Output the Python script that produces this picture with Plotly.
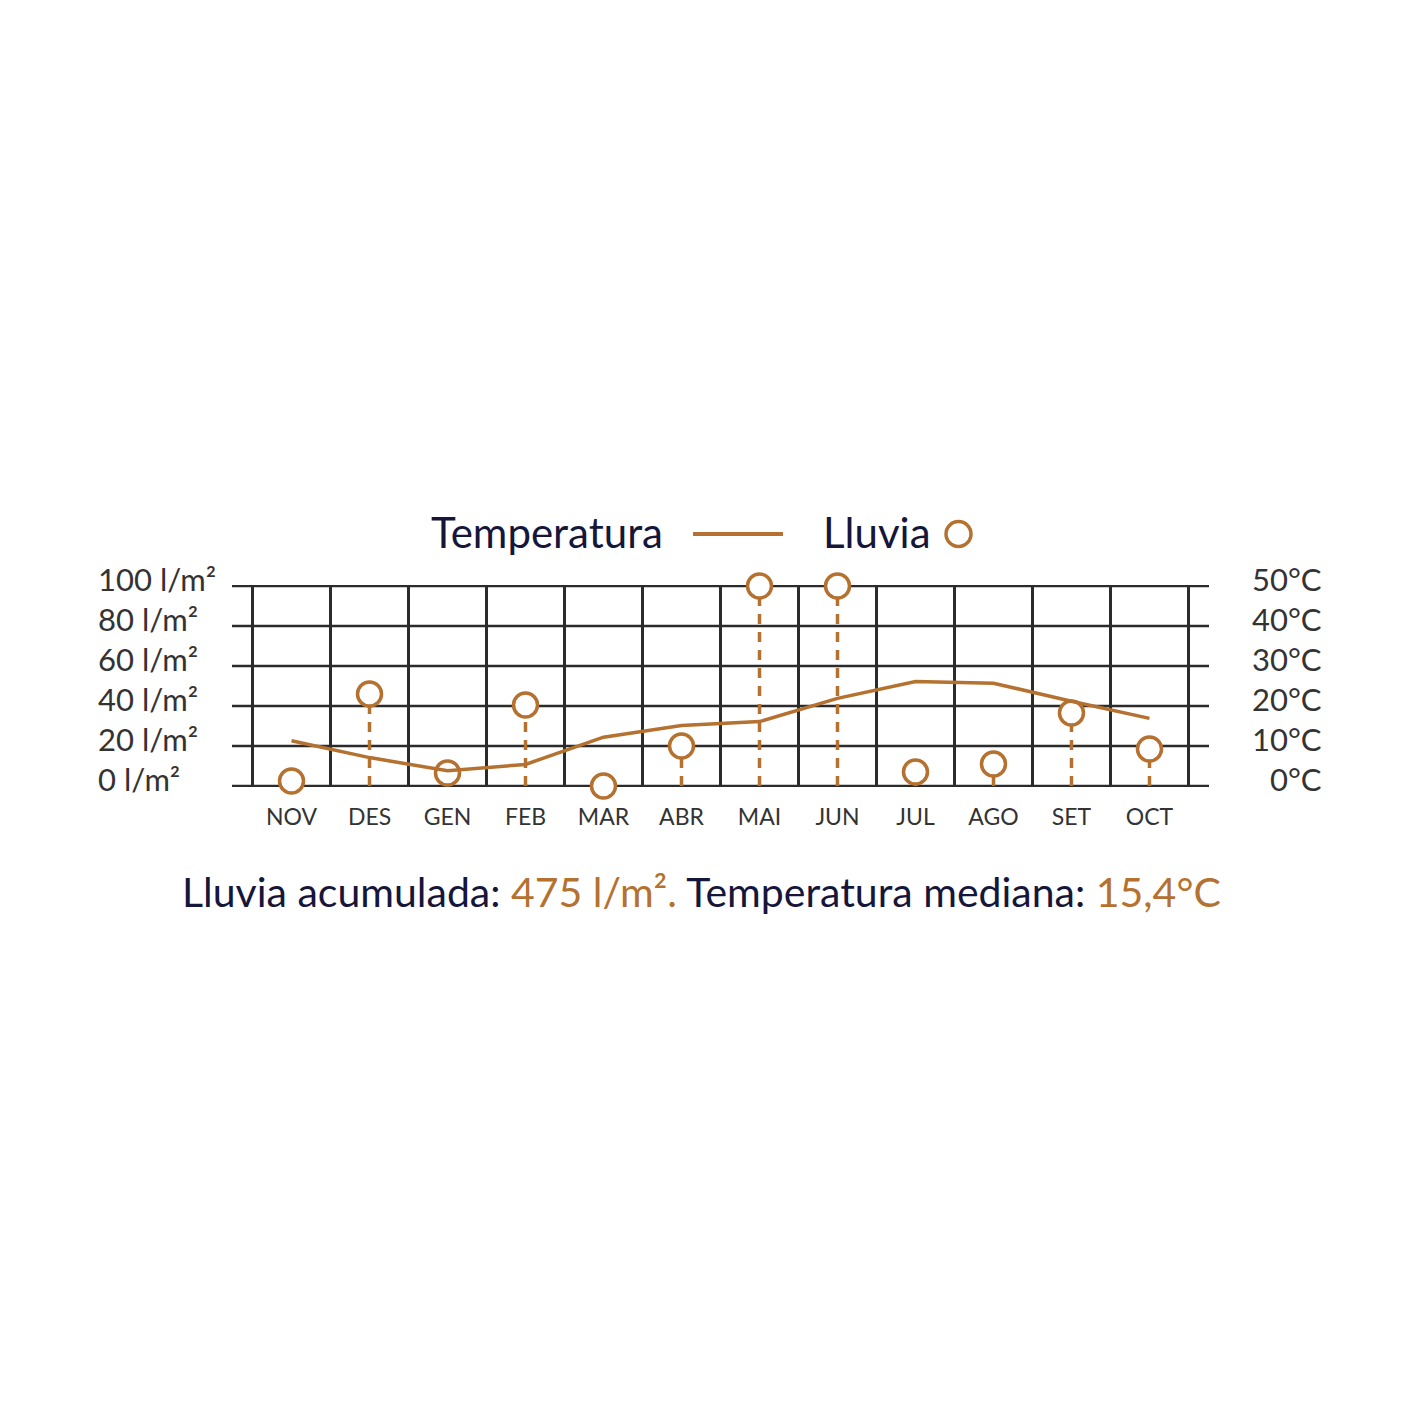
import plotly.graph_objects as go

months = ['NOV', 'DES', 'GEN', 'FEB', 'MAR', 'ABR', 'MAI', 'JUN', 'JUL', 'AGO', 'SET', 'OCT']
rain = [2.5, 46, 6.5, 40.5, 0, 20, 100, 100, 7, 11, 36.5, 18.5]
temp = [11.3, 7.1, 3.8, 5.4, 12.2, 15.1, 16.1, 21.9, 26.1, 25.7, 21.2, 16.9]
rain_ticks = [0, 20, 40, 60, 80, 100]
temp_ticks = [0, 10, 20, 30, 40, 50]

BROWN = '#b5712f'
INK = '#16163a'
GREY = '#333333'
GRID = '#2b2b2b'
FONT = 'Lato'

# the page body adds an 8px margin around the plot div
OFF = 8
W, H = 1422, 1422
L, T = 232 - OFF, 585 - OFF
PW, PH = 977, 202
R, B = W - L - PW, H - T - PH


def px_x(p):
    return (p - OFF - L) / PW


def px_y(p):
    return 1 - (p - OFF - T) / PH


x = list(range(len(months)))

fig = go.Figure()

# dashed stems under the rain circles
sx, sy = [], []
for i, v in enumerate(rain):
    sx += [i, i, None]
    sy += [0, v, None]
fig.add_trace(go.Scatter(
    x=sx, y=sy, mode='lines',
    line=dict(color=BROWN, width=3.5, dash='10px,8px'),
    hoverinfo='skip', showlegend=False, cliponaxis=False
))

fig.add_trace(go.Scatter(
    x=x, y=rain, mode='markers', name='Lluvia',
    marker=dict(symbol='circle', size=24, color='white',
                line=dict(color=BROWN, width=3.5)),
    showlegend=False, cliponaxis=False
))

fig.add_trace(go.Scatter(
    x=x, y=temp, mode='lines', name='Temperatura', yaxis='y2',
    line=dict(color=BROWN, width=3.5),
    showlegend=False, cliponaxis=False
))

fig.update_layout(
    width=W, height=H,
    margin=dict(l=L, r=R, t=T, b=B),
    paper_bgcolor='white', plot_bgcolor='white',
    font=dict(family=FONT, color=GREY),
    xaxis=dict(
        range=[-0.763, 11.763],
        tickvals=x, ticktext=months,
        tickfont=dict(size=23, color=GREY),
        ticklabelstandoff=14,
        showgrid=False, zeroline=False, showline=False, ticks='',
        minor=dict(tickvals=[i - 0.5 for i in range(len(months) + 1)],
                   showgrid=True, gridcolor=GRID, gridwidth=2.5),
    ),
    yaxis=dict(
        range=[-0.5, 100.5], tickvals=rain_ticks,
        showticklabels=False, showgrid=False,
        zeroline=False, showline=False,
    ),
    yaxis2=dict(
        range=[-0.25, 50.25], overlaying='y', side='right',
        showticklabels=False, showgrid=False, zeroline=False,
    ),
)

for v in rain_ticks:
    fig.add_shape(type='line', xref='paper', x0=0, x1=1, yref='y', y0=v, y1=v,
                  line=dict(color=GRID, width=2.5), layer='below')

annotations = []
for v in rain_ticks:
    annotations.append(dict(
        x=px_x(96), xref='paper', y=v, yref='y', yshift=7,
        text=f'{v} l/m²', showarrow=False, xanchor='left', yanchor='middle',
        font=dict(size=31, color=GREY, family=FONT)
    ))
for v in temp_ticks:
    annotations.append(dict(
        x=px_x(1324), xref='paper', y=v, yref='y2', yshift=7,
        text=f'{v}°C', showarrow=False, xanchor='right', yanchor='middle',
        font=dict(size=31, color=GREY, family=FONT)
    ))

# legend built by hand: text first, symbol after
annotations.append(dict(
    x=px_x(665), xref='paper', y=px_y(532), yref='paper',
    text='Temperatura', showarrow=False, xanchor='right', yanchor='middle',
    font=dict(size=42, color=INK, family=FONT)
))
annotations.append(dict(
    x=px_x(933), xref='paper', y=px_y(532), yref='paper',
    text='Lluvia', showarrow=False, xanchor='right', yanchor='middle',
    font=dict(size=42, color=INK, family=FONT)
))

annotations.append(dict(
    x=px_x(701), xref='paper', y=px_y(891), yref='paper',
    text=(f'Lluvia acumulada: <span style="color:{BROWN}">475 l/m².</span> '
          f'Temperatura mediana: <span style="color:{BROWN}">15,4°C</span>'),
    showarrow=False, xanchor='center', yanchor='middle',
    font=dict(size=41, color=INK, family=FONT)
))

fig.update_layout(annotations=annotations)

fig.add_shape(type='line', xref='paper', yref='paper',
              x0=px_x(693), x1=px_x(783), y0=px_y(534), y1=px_y(534),
              line=dict(color=BROWN, width=4))
fig.add_shape(type='circle', xref='paper', yref='paper',
              x0=px_x(946), x1=px_x(971), y0=px_y(546.5), y1=px_y(521.5),
              line=dict(color=BROWN, width=3.5), fillcolor='white')

fig.write_html('out.html')
